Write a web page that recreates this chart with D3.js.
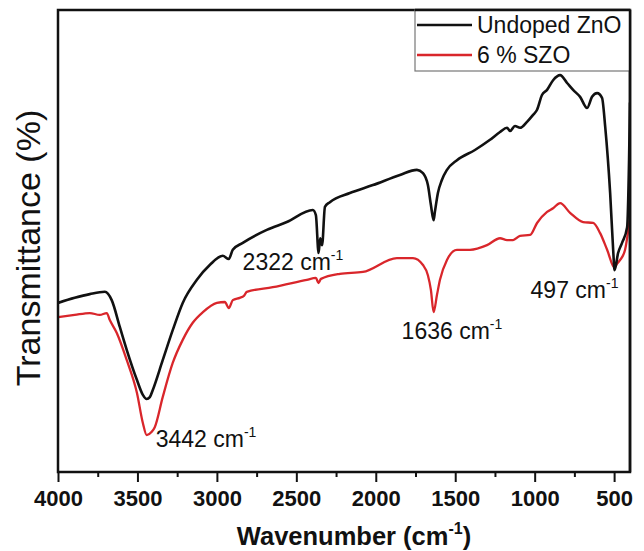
<!DOCTYPE html>
<html>
<head>
<meta charset="utf-8">
<script src="https://cdn.jsdelivr.net/npm/d3@7"></script>
<style>
  html, body { margin: 0; padding: 0; background: #fff; }
  svg { display: block; font-family: "Liberation Sans", Arial, Helvetica, sans-serif; }
</style>
</head>
<body>
<svg id="chart" width="644" height="551"></svg>
<script>
// FTIR spectra: wavenumber (cm^-1) and transmittance (arbitrary %, offset curves)
const undopedWn = [4000,3895,3800,3705,3662,3611,3567,3503,3466,3442,3422,3404,3341,3278,3215,3126,3045,2963,2925,2900,2837,2686,2560,2396,2377,2360,2350,2338,2320,2289,2163,2018,1848,1741,1703,1672,1653,1636,1628,1609,1584,1552,1489,1376,1281,1218,1174,1155,1124,1092,1048,1010,985,954,922,884,840,796,758,714,670,639,607,576,556,525,506,497,475,450,418,406,400];
const undopedT  = [36.6,37.7,38.5,39.0,37.2,31.4,26.4,19.9,16.7,15.8,16.2,17.7,24.2,30.7,36.6,41.6,44.8,46.8,46.1,48.1,49.6,52.4,54.1,56.7,55.6,47.4,50.6,49.1,57.4,58.4,60.4,62.1,64.3,65.4,64.7,62.1,57.8,54.5,56.3,60.4,63.2,65.4,67.5,69.7,71.9,73.6,74.5,73.8,74.9,74.5,75.8,77.3,78.4,81.6,82.7,84.8,85.9,84.2,82.7,81.2,78.8,81.2,82.0,81.0,74.7,60.4,48.1,43.7,47.4,49.6,53.0,67.5,80.0];

const szoWn = [4000,3895,3800,3737,3693,3674,3630,3567,3503,3466,3442,3410,3391,3341,3278,3215,3152,3088,3000,2950,2925,2900,2856,2830,2812,2648,2434,2377,2360,2345,2226,2081,1867,1766,1703,1672,1653,1636,1615,1596,1552,1489,1407,1300,1218,1174,1136,1092,1029,985,922,884,840,777,695,632,588,544,497,487,462,431,400];
const szoT  = [33.5,34.0,34.4,34.0,34.4,32.9,30.1,24.2,17.1,10.6,8.0,8.7,9.7,16.2,23.6,28.6,32.3,34.6,36.6,36.8,35.5,37.2,37.7,38.1,39.0,40.0,41.6,42.0,40.9,41.8,42.9,43.3,46.3,46.3,44.8,42.6,39.4,34.6,38.3,41.6,45.9,48.1,48.1,49.1,50.6,50.2,50.2,51.1,51.3,53.9,56.3,57.1,58.2,56.1,54.1,53.9,51.7,48.1,44.2,44.8,45.9,48.1,55.2];

const seriesNames  = ["Undoped ZnO", "6 % SZO"];
const seriesColors = ["#111111", "#d9262b"];

const xTicks = d3.range(4000, 499, -250);   // major every 500, minor between

// band assignments written on the plot
const bandWn    = [3442, 2322, 1636, 497];
const bandLabel = ["3442", "2322", "1636", "497"];

const W = 644, H = 551;
const margin = { left: 58, right: 14, top: 10, bottom: 79 };
const svg = d3.select("#chart");

const x = d3.scaleLinear().domain([4000, 400]).range([margin.left, W - margin.right]);
const y = d3.scaleLinear().domain([0, 100]).range([H - margin.bottom, margin.top]);

const series = [
  { wn: undopedWn, t: undopedT },
  { wn: szoWn, t: szoT }
];

const line = d3.line()
  .x(d => x(d[0]))
  .y(d => y(d[1]))
  .curve(d3.curveMonotoneX);

const plot = svg.append("g");
plot.append("clipPath").attr("id", "clip")
  .append("rect")
  .attr("x", x(4000)).attr("y", y(100))
  .attr("width", x(400) - x(4000)).attr("height", y(0) - y(100));

// draw the doped sample first so the undoped trace sits on top
[1, 0].forEach(i => {
  const s = series[i];
  plot.append("path")
    .datum(s.wn.map((w, k) => [w, s.t[k]]))
    .attr("clip-path", "url(#clip)")
    .attr("fill", "none")
    .attr("stroke", seriesColors[i])
    .attr("stroke-width", i === 0 ? 2.6 : 2.3)
    .attr("stroke-linejoin", "round")
    .attr("d", line);
});

// frame
svg.append("rect")
  .attr("x", x(4000)).attr("y", y(100))
  .attr("width", x(400) - x(4000)).attr("height", y(0) - y(100))
  .attr("fill", "none").attr("stroke", "#111").attr("stroke-width", 2.5);

// bottom axis
const xAxis = d3.axisBottom(x)
  .tickValues(xTicks)
  .tickSize(10)
  .tickPadding(8)
  .tickFormat(d => (d % 500 === 0 ? String(d) : ""));

const gx = svg.append("g")
  .attr("transform", `translate(0,${y(0)})`)
  .call(xAxis);
gx.select(".domain").remove();
gx.selectAll(".tick line")
  .attr("stroke", "#111").attr("stroke-width", 2)
  .attr("y2", d => (d % 500 === 0 ? 10 : 5));
gx.selectAll(".tick text")
  .attr("fill", "#111")
  .style("font-family", "'Liberation Sans', Arial, sans-serif")
  .style("font-size", "22px")
  .style("font-weight", "bold");

// axis titles
const xt = svg.append("text")
  .attr("x", 354).attr("y", 545)
  .attr("text-anchor", "middle")
  .attr("fill", "#111")
  .style("font-size", "25.5px").style("font-weight", "bold");
xt.append("tspan").text("Wavenumber (cm");
xt.append("tspan").attr("dy", -11).style("font-size", "16px").text("-1");
xt.append("tspan").attr("dy", 11).text(")");

svg.append("text")
  .attr("transform", "translate(40,248) rotate(-90)")
  .attr("text-anchor", "middle")
  .attr("fill", "#111")
  .style("font-size", "34px")
  .text("Transmittance (%)");

// band annotations, placed relative to the band minimum of the chosen trace
const annotOffset = [
  { series: 1, dx: 9, dy: 12 },
  { series: 0, dx: -82, dy: 17 },
  { series: 1, dx: -32, dy: 27 },
  { series: 1, dx: -84, dy: 30 }
];
bandWn.forEach((w, i) => {
  const o = annotOffset[i];
  const s = series[o.series];
  let tMin = Infinity;
  s.wn.forEach((v, j) => { if (Math.abs(v - w) <= 45 && s.t[j] < tMin) tMin = s.t[j]; });
  const t = svg.append("text")
    .attr("x", x(w) + o.dx)
    .attr("y", y(tMin) + o.dy)
    .attr("fill", "#111")
    .style("font-size", "23px");
  t.append("tspan").text(bandLabel[i] + " cm");
  t.append("tspan").attr("dy", -10).style("font-size", "14px").text("-1");
});

// legend
const lg = svg.append("g");
lg.append("rect")
  .attr("x", 415).attr("y", y(100))
  .attr("width", x(400) - 415).attr("height", 61)
  .attr("fill", "#fff").attr("stroke", "#777").attr("stroke-width", 1.2);
seriesNames.forEach((name, i) => {
  const cy = 25 + i * 30;
  lg.append("line")
    .attr("x1", 417).attr("x2", 472)
    .attr("y1", cy).attr("y2", cy)
    .attr("stroke", seriesColors[i]).attr("stroke-width", 2.5);
  lg.append("text")
    .attr("x", 477).attr("y", cy + 8)
    .attr("fill", "#111")
    .style("font-size", "23px")
    .text(name);
});
// redraw right/top frame edge over legend box
svg.append("line")
  .attr("x1", x(400)).attr("x2", x(400)).attr("y1", y(100)).attr("y2", y(0))
  .attr("stroke", "#111").attr("stroke-width", 2.5);
svg.append("line")
  .attr("x1", 415).attr("x2", x(400)).attr("y1", y(100)).attr("y2", y(100))
  .attr("stroke", "#111").attr("stroke-width", 2.5);
</script>
</body>
</html>
